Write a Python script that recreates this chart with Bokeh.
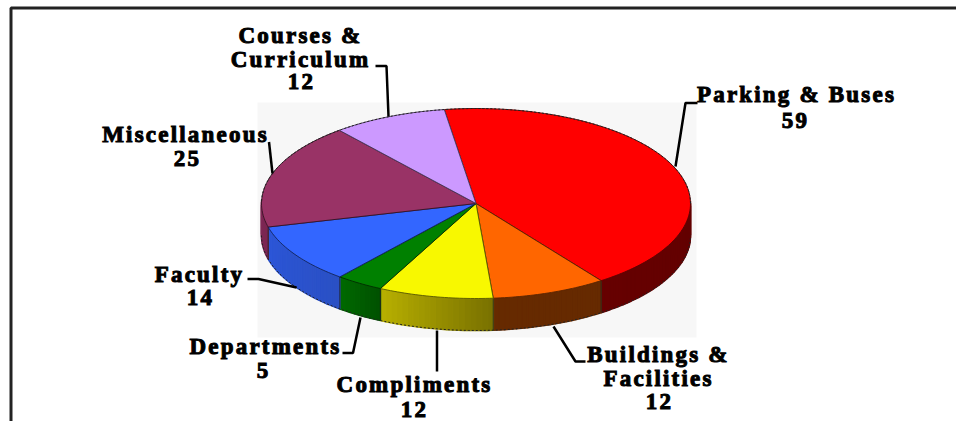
import math
from bokeh.plotting import figure
from bokeh.embed import file_html
from bokeh.resources import INLINE
from bokeh.core.properties import value

categories = ["Parking & Buses", "Buildings & Facilities", "Compliments", "Departments",
              "Faculty", "Miscellaneous", "Courses & Curriculum"]
counts = [59, 12, 12, 5, 14, 25, 12]
top_colors = ["#ff0000", "#ff6600", "#f8f800", "#008000", "#3366ff", "#993366", "#cc99ff"]
side_left = ["#660000", "#662a00", "#b8b000", "#006a00", "#2c56d8", "#8a2c5c", "#7a5c99"]
side_right = ["#5c0000", "#662a00", "#787000", "#005000", "#2a50c4", "#7a2652", "#7a5c99"]

W, H = 956, 421
CX, CY, RX, RY, DEPTH = 475.5, 203, 214.5, 95, 32
START = 98.5
SPACING = 2.2
BASE_SHIFT = 7.5

p = figure(width=W, height=H, x_range=(0, W), y_range=(H, 0), toolbar_location=None,
           output_backend="svg", min_border=0, outline_line_color=None,
           x_axis_location=None, y_axis_location=None, background_fill_color="white")
p.grid.visible = False
p.styles = {"position": "absolute", "left": "0px", "top": "0px", "letter-spacing": f"{SPACING}px"}

# plot background panel and frame
p.quad(left=[257], right=[696], top=[102], bottom=[337], fill_color="#f7f7f7", line_color=None)
p.line([10.5, 10.5, W], [H, 7.5, 7.5], line_color="#222222", line_width=3)


def hex2rgb(c):
    return [int(c[i:i + 2], 16) for i in (1, 3, 5)]


def mix(a, b, f):
    ca, cb = hex2rgb(a), hex2rgb(b)
    return "#%02x%02x%02x" % tuple(round(x + (y - x) * f) for x, y in zip(ca, cb))


def px(t):
    return CX + RX * math.cos(math.radians(t))


def py(t):
    return CY - RY * math.sin(math.radians(t))


total = sum(counts)
edges = [START]
for c in counts:
    edges.append(edges[-1] - c / total * 360)

# side wall strips
sx, sy, sc = [], [], []
seam_x, seam_y = [], []
for i in range(len(counts)):
    a0, a1 = edges[i], edges[i + 1]
    n = max(2, int(abs(a0 - a1) / 1.5))
    for k in range(n):
        t0 = a0 + (a1 - a0) * k / n
        t1 = a0 + (a1 - a0) * (k + 1) / n
        s = lambda t: math.sin(math.radians(t))
        if s(t0) > 0.02 and s(t1) > 0.02:
            continue
        sx.append([px(t0), px(t1), px(t1), px(t0)])
        sy.append([py(t0), py(t1), py(t1) + DEPTH, py(t0) + DEPTH])
        sc.append(mix(side_right[i], side_left[i], (k + 0.5) / n))
    if math.sin(math.radians(a0)) < 0:
        seam_x.append([px(a0), px(a0)])
        seam_y.append([py(a0), py(a0) + DEPTH])
p.patches(sx, sy, fill_color=sc, line_color=sc, line_width=1.6)
p.multi_line(seam_x, seam_y, line_color="#222222", line_width=0.8)

# jagged lower rim
low = [180 + k * 2 for k in range(91)]
p.line([px(t) for t in low], [py(t) + DEPTH for t in low], line_color="#222222", line_width=1, line_dash="2 2")

# top faces
for i in range(len(counts)):
    a0, a1 = edges[i], edges[i + 1]
    n = max(2, int(abs(a0 - a1)))
    ts = [a0 + (a1 - a0) * k / n for k in range(n + 1)]
    xs = [CX] + [px(t) for t in ts]
    ys = [CY] + [py(t) for t in ts]
    p.patch(xs, ys, fill_color=top_colors[i], line_color=mix(top_colors[i], "#000000", 0.65), line_width=0.9)

# jagged rim
rim = [k * 2 for k in range(91)]
p.line([px(t) for t in rim], [py(t) for t in rim], line_color="#222222", line_width=1, line_dash="2 2")

# leader lines
leaders = [
    ([375, 386, 388], [65.5, 65.5, 116]),
    ([268.5, 272], [141.5, 173]),
    ([697, 685, 675], [102.5, 102.5, 166]),
    ([585, 575, 553], [361, 361, 326]),
    ([436.5, 436.5], [330, 371]),
    ([342, 352.5, 360], [352.5, 352.5, 317]),
    ([247, 258, 296], [278.5, 278.5, 287]),
]
p.multi_line([l[0] for l in leaders], [l[1] for l in leaders], line_color="black", line_width=2.5)

# labels
labels = [
    ("Courses &", 300, 42), ("Curriculum", 300, 66.5), ("12", 301, 88),
    ("Miscellaneous", 185, 141.5), ("25", 187, 165),
    ("Faculty", 199, 281), ("14", 200, 304),
    ("Departments", 265, 353), ("5", 263, 377),
    ("Compliments", 414, 391), ("12", 414, 416),
    ("Parking & Buses", 796, 101.5), ("59", 795, 127),
    ("Buildings &", 658, 361), ("Facilities", 658, 385), ("12", 659, 408),
]
p.text([l[1] - len(l[0]) * SPACING / 2 for l in labels], [l[2] - BASE_SHIFT for l in labels],
       text=[l[0] for l in labels],
       text_font=value("Liberation Serif"), text_font_style="bold", text_font_size="23px",
       text_color="black", text_outline_color="black", text_align="center", text_baseline="alphabetic")

open("out.html", "w").write(file_html(p, INLINE))
